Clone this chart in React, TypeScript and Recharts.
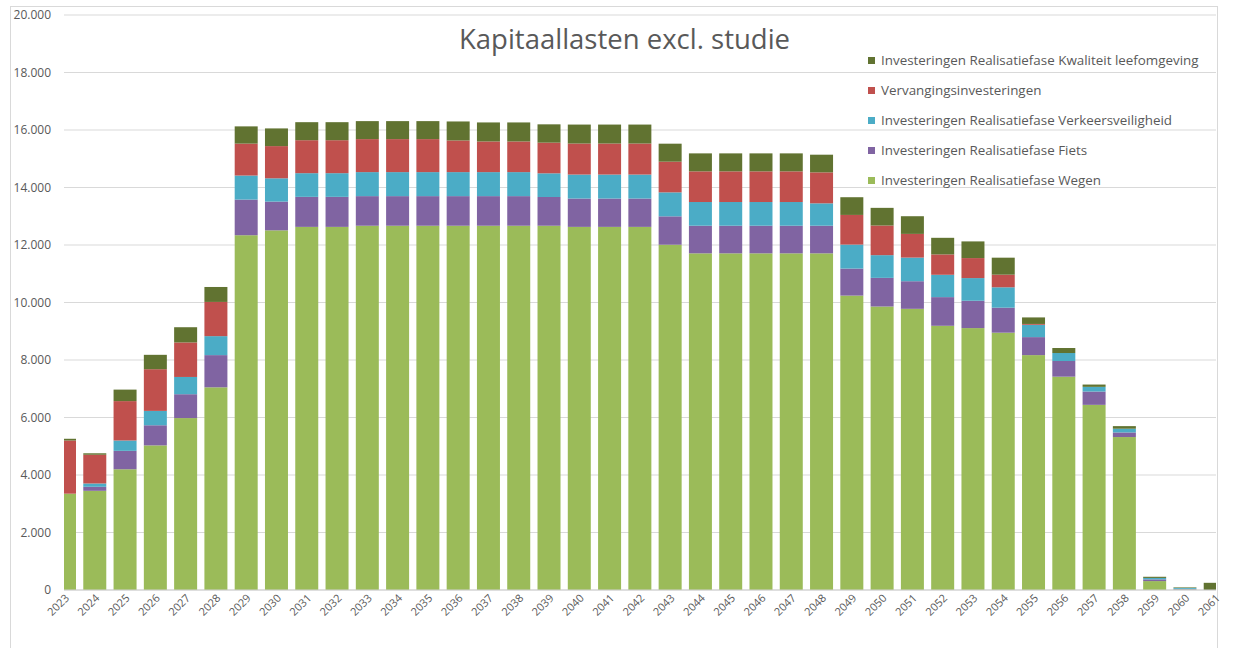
import React from 'react';
import { BarChart, Bar, XAxis, YAxis, CartesianGrid, Legend } from 'recharts';

const years = [
  '2023','2024','2025','2026','2027','2028','2029','2030','2031','2032',
  '2033','2034','2035','2036','2037','2038','2039','2040','2041','2042',
  '2043','2044','2045','2046','2047','2048','2049','2050','2051','2052',
  '2053','2054','2055','2056','2057','2058','2059','2060','2061',
];

const wegen = [
  3350, 3450, 4200, 5030, 5980, 7050, 12340, 12510, 12630, 12630,
  12670, 12670, 12670, 12670, 12670, 12670, 12670, 12630, 12630, 12630,
  12010, 11710, 11710, 11710, 11710, 11710, 10240, 9860, 9780, 9190,
  9110, 8950, 8170, 7420, 6440, 5320, 310, 20, 0,
];
const fiets = [
  0, 140, 640, 700, 830, 1120, 1240, 1000, 1045, 1045,
  1030, 1030, 1030, 1030, 1030, 1030, 1000, 986, 986, 986,
  987, 961, 961, 961, 961, 961, 940, 997, 960, 997,
  951, 870, 626, 545, 463, 160, 60, 20, 0,
];
const verkeer = [
  0, 115, 360, 500, 600, 660, 836, 810, 823, 823,
  835, 835, 835, 835, 835, 835, 823, 834, 834, 834,
  834, 824, 824, 824, 824, 778, 834, 790, 822, 777,
  788, 709, 428, 278, 163, 130, 50, 30, 0,
];
const vervanging = [
  1850, 1000, 1370, 1450, 1200, 1190, 1110, 1120, 1147, 1147,
  1148, 1148, 1148, 1101, 1066, 1066, 1067, 1079, 1079, 1079,
  1067, 1066, 1066, 1066, 1066, 1077, 1032, 1030, 824, 708,
  696, 439, 30, 0, 0, 0, 0, 0, 0,
];
const kwaliteit = [
  60, 50, 400, 500, 530, 520, 600, 615, 627, 627,
  626, 626, 626, 661, 662, 662, 637, 660, 660, 660,
  626, 626, 626, 626, 626, 615, 616, 615, 615, 578,
  580, 591, 227, 174, 80, 90, 40, 20, 250,
];

const yTicks = [0, 2000, 4000, 6000, 8000, 10000, 12000, 14000, 16000, 18000, 20000];

const series = [
  { key: 'wegen', name: 'Investeringen Realisatiefase Wegen', color: '#9BBB59', values: wegen },
  { key: 'fiets', name: 'Investeringen Realisatiefase Fiets', color: '#8064A2', values: fiets },
  { key: 'verkeer', name: 'Investeringen Realisatiefase Verkeersveiligheid', color: '#4BACC6', values: verkeer },
  { key: 'vervanging', name: 'Vervangingsinvesteringen', color: '#C0504D', values: vervanging },
  { key: 'kwaliteit', name: 'Investeringen Realisatiefase Kwaliteit leefomgeving', color: '#617331', values: kwaliteit },
];

const data = years.map((year, i) => {
  const row: Record<string, any> = { year };
  series.forEach((s) => {
    row[s.key] = s.values[i];
  });
  return row;
});

const FONT = '"Open Sans", "Noto Sans", sans-serif';
const TEXT = '#595959';

const CHART_W = 1236;
const CHART_H = 648;
const Y_AXIS_W = 64;
const MARGIN_RIGHT = 20;
const PLOT_LEFT = Y_AXIS_W;
const PLOT_RIGHT = CHART_W - MARGIN_RIGHT;

const fmt = (v: number) => {
  const s = String(Math.round(v));
  return s.replace(/\B(?=(\d{3})+(?!\d))/g, '.');
};

const XTick = (props: any) => {
  const { x, y, payload } = props;
  return (
    <g transform={`translate(${x + 3},${y})`}>
      <text
        x={0}
        y={0}
        dy="0.35em"
        textAnchor="end"
        transform="rotate(-45)"
        fill={TEXT}
        fontSize={11}
        fontFamily={FONT}
      >
        {payload.value}
      </text>
    </g>
  );
};

// Bar segment clipped to the plot area (the first and last category sit on the plot edges)
const ClippedBar = (props: any) => {
  const { x, y, width, height, fill } = props;
  if (!height || height <= 0) return null;
  const x0 = Math.max(x, PLOT_LEFT);
  const x1 = Math.min(x + width, PLOT_RIGHT);
  if (x1 <= x0) return null;
  return <rect x={x0} y={y} width={x1 - x0} height={height} fill={fill} />;
};

const LegendContent = () => (
  <div style={{ fontFamily: FONT, fontSize: 13.4, color: TEXT }}>
    {[...series].reverse().map((s) => (
      <div key={s.key} style={{ height: 30, display: 'flex', alignItems: 'center' }}>
        <span style={{ display: 'inline-block', width: 7, height: 7, background: s.color, marginRight: 6 }} />
        <span style={{ whiteSpace: 'nowrap' }}>{s.name}</span>
      </div>
    ))}
  </div>
);

export default function App() {
  return (
    <div style={{ position: 'fixed', left: 0, top: 0, width: CHART_W, height: CHART_H, background: '#fff', overflow: 'hidden' }}>
      <div
        style={{
          position: 'absolute',
          left: 10,
          top: 6,
          width: 1208,
          height: 700,
          border: '1px solid #d9d9d9',
          boxSizing: 'border-box',
        }}
      />
      <BarChart
        width={CHART_W}
        height={CHART_H}
        data={data}
        margin={{ top: 15, right: MARGIN_RIGHT, bottom: 0, left: 0 }}
        barSize={23}
        style={{ position: 'absolute', left: 0, top: 0 }}
      >
        <CartesianGrid horizontal vertical={false} stroke="#d9d9d9" strokeWidth={1} />
        <XAxis
          dataKey="year"
          interval={0}
          padding={{ left: -15, right: -14 }}
          allowDataOverflow
          axisLine={{ stroke: '#d0d0d0' }}
          tickLine={false}
          tickSize={0}
          tickMargin={6}
          tick={<XTick />}
          height={58}
        />
        <YAxis
          domain={[0, 20000]}
          ticks={yTicks}
          allowDataOverflow
          tickFormatter={fmt}
          axisLine={false}
          tickLine={false}
          tickSize={0}
          tickMargin={13}
          width={Y_AXIS_W}
          tick={{ fill: TEXT, fontSize: 12, fontFamily: FONT }}
        />
        <Legend
          layout="vertical"
          align="center"
          verticalAlign="middle"
          content={<LegendContent />}
          wrapperStyle={{ position: 'absolute', left: 868, top: 45, width: 380, margin: 0 }}
        />
        {series.map((s) => (
          <Bar
            key={s.key}
            dataKey={s.key}
            name={s.name}
            stackId="a"
            fill={s.color}
            shape={<ClippedBar />}
            isAnimationActive={false}
          />
        ))}
      </BarChart>
      <div
        style={{
          position: 'absolute',
          left: 0,
          top: 25,
          width: 1249,
          textAlign: 'center',
          fontFamily: FONT,
          fontSize: 27.5,
          lineHeight: '27px',
          color: TEXT,
        }}
      >
        Kapitaallasten excl. studie
      </div>
    </div>
  );
}
